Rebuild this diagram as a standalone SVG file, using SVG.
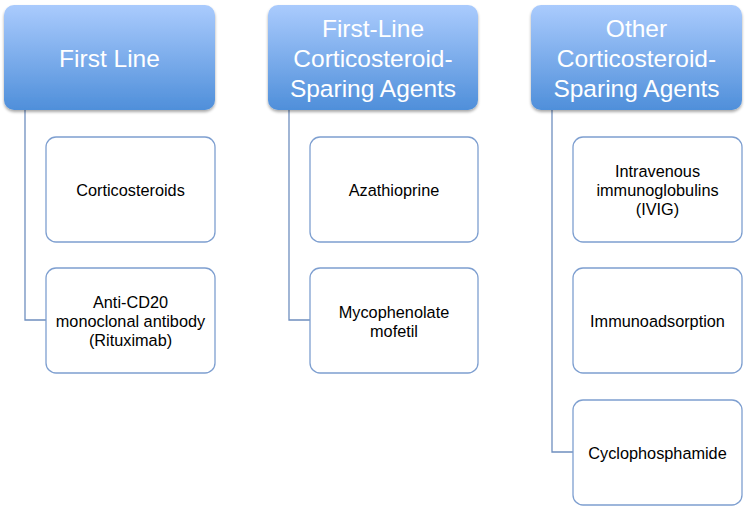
<svg xmlns="http://www.w3.org/2000/svg" width="747" height="507" viewBox="0 0 747 507">
<defs>
<linearGradient id="hg" x1="0" y1="0" x2="0" y2="1">
<stop offset="0" stop-color="#aacbfd"/>
<stop offset="1" stop-color="#4f8fda"/>
</linearGradient>
<filter id="sh" x="-10%" y="-10%" width="120%" height="130%">
<feGaussianBlur in="SourceAlpha" stdDeviation="1.5"/>
<feOffset dx="0" dy="2" result="b"/>
<feComponentTransfer><feFuncA type="linear" slope="0.35"/></feComponentTransfer>
<feMerge><feMergeNode/><feMergeNode in="SourceGraphic"/></feMerge>
</filter>
</defs>
<style>
.hdr{fill:url(#hg);filter:url(#sh)}
.ht{fill:#ffffff;font-family:"Liberation Sans",Arial,sans-serif;font-size:24.5px;text-anchor:middle}
.box{fill:#ffffff;stroke:#7e9fd0;stroke-width:1.3}
.bt{fill:#000000;font-family:"Liberation Sans",Arial,sans-serif;font-size:16.3px;text-anchor:middle}
.con{fill:none;stroke:#6f8fbf;stroke-width:1.3}
</style>
<rect width="747" height="507" fill="#ffffff"/>
<g id="connectors">
<path class="con" d="M25,110 V320 H46"/>
<path class="con" d="M289,110 V320 H310"/>
<path class="con" d="M552,110 V452 H573"/>
</g>
<g id="h1"><rect class="hdr" x="4" y="5" width="211" height="105" rx="10"/><text class="ht" x="109.5" y="67">First Line</text></g>
<g id="h2"><rect class="hdr" x="268" y="5" width="210" height="105" rx="10"/><text class="ht" x="373" y="37">First-Line</text><text class="ht" x="373" y="67">Corticosteroid-</text><text class="ht" x="373" y="97">Sparing Agents</text></g>
<g id="h3"><rect class="hdr" x="531" y="5" width="211" height="105" rx="10"/><text class="ht" x="636.5" y="37">Other</text><text class="ht" x="636.5" y="67">Corticosteroid-</text><text class="ht" x="636.5" y="97">Sparing Agents</text></g>
<g id="n1"><rect class="box" x="46" y="137" width="169" height="105" rx="10"/><text class="bt" x="130.5" y="196">Corticosteroids</text></g>
<g id="n2"><rect class="box" x="46" y="268" width="169" height="105" rx="10"/><text class="bt" x="130.5" y="308">Anti-CD20</text><text class="bt" x="130.5" y="327">monoclonal antibody</text><text class="bt" x="130.5" y="346">(Rituximab)</text></g>
<g id="n3"><rect class="box" x="310" y="137" width="168" height="105" rx="10"/><text class="bt" x="394" y="196">Azathioprine</text></g>
<g id="n4"><rect class="box" x="310" y="268" width="168" height="105" rx="10"/><text class="bt" x="394" y="318">Mycophenolate</text><text class="bt" x="394" y="337">mofetil</text></g>
<g id="n5"><rect class="box" x="573" y="137" width="169" height="105" rx="10"/><text class="bt" x="657.5" y="177">Intravenous</text><text class="bt" x="657.5" y="196">immunoglobulins</text><text class="bt" x="657.5" y="215">(IVIG)</text></g>
<g id="n6"><rect class="box" x="573" y="268" width="169" height="105" rx="10"/><text class="bt" x="657.5" y="327">Immunoadsorption</text></g>
<g id="n7"><rect class="box" x="573" y="400" width="169" height="105" rx="10"/><text class="bt" x="657.5" y="459">Cyclophosphamide</text></g>
</svg>
